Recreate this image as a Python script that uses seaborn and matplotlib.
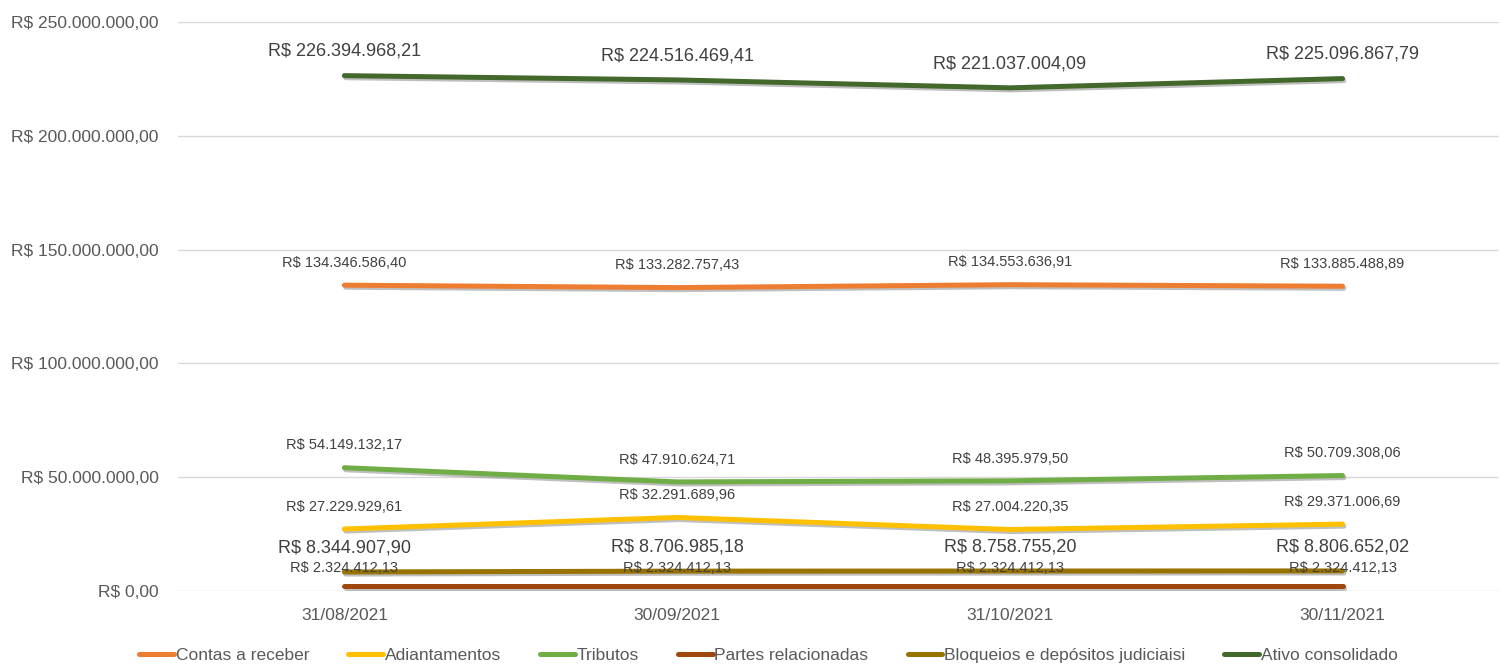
import seaborn as sns
import numpy as np
import pandas as pd
import matplotlib
matplotlib.use("Agg")
from matplotlib import pyplot as plt
from matplotlib import patheffects as pe

dates = ["31/08/2021", "30/09/2021", "31/10/2021", "30/11/2021"]
series_names = ["Contas a receber", "Adiantamentos", "Tributos", "Partes relacionadas",
                "Bloqueios e depósitos judiciaisi", "Ativo consolidado"]
contas_receber = [134346586.40, 133282757.43, 134553636.91, 133885488.89]
adiantamentos = [27229929.61, 32291689.96, 27004220.35, 29371006.69]
tributos = [54149132.17, 47910624.71, 48395979.50, 50709308.06]
partes_relacionadas = [2324412.13, 2324412.13, 2324412.13, 2324412.13]
bloqueios = [8344907.90, 8706985.18, 8758755.20, 8806652.02]
ativo_consolidado = [226394968.21, 224516469.41, 221037004.09, 225096867.79]
y_ticks = [0, 50000000, 100000000, 150000000, 200000000, 250000000]

colors = ["#ED7D31", "#FFC000", "#70AD47", "#9E480E", "#997300", "#43682B"]

values = [contas_receber, adiantamentos, tributos, partes_relacionadas, bloqueios, ativo_consolidado]
df = pd.DataFrame({
	"data": [d for _ in series_names for d in dates],
	"pos": [i for _ in series_names for i in range(len(dates))],
	"serie": [s for s in series_names for _ in dates],
	"valor": [v for vals in values for v in vals],
})

sns.set_theme(style="white")
plt.rcParams['font.family'] = ['Liberation Sans Narrow', 'Liberation Sans', 'DejaVu Sans']

def brl(v):
	s = f"{v:,.2f}"
	s = s.replace(",", "#").replace(".", ",").replace("#", ".")
	return "R$ " + s

fig = plt.figure(figsize=(15.01, 6.64), dpi=100)
ax = fig.add_axes([0.1186, 0.110, 0.880, 0.857])

shadow = [pe.SimpleLineShadow(offset=(1, -1.5), shadow_color="gray", alpha=0.5), pe.Normal()]
sns.lineplot(data=df, x="pos", y="valor", hue="serie", hue_order=series_names,
			 palette=colors, linewidth=3.6, ax=ax, legend=False)
for line in ax.get_lines():
	line.set_path_effects(shadow)
	line.set_solid_capstyle("round")

# data labels
big = {"Ativo consolidado", "Bloqueios e depósitos judiciaisi"}
for name, vals in zip(series_names, values):
	size = 13 if name in big else 10.5
	if name == "Partes relacionadas":
		off = 13
	elif name in big:
		off = 17.5
	else:
		off = 16
	for i, v in enumerate(vals):
		ax.annotate(brl(v), (i, v), xytext=(0, off), textcoords="offset points",
					ha="center", va="center", fontsize=size, color="#404040")

ax.set_xlim(-0.5, 3.47)
ax.set_ylim(0, 250000000)
ax.set_xticks(range(len(dates)))
ax.set_xticklabels(dates)
ax.set_yticks(y_ticks)
ax.set_yticklabels([brl(t) for t in y_ticks])
ax.tick_params(axis="both", labelsize=12.5, colors="#595959", length=0, pad=12)
ax.tick_params(axis="y", pad=14)
ax.grid(axis="y", color="#d9d9d9", linewidth=1)
ax.set_axisbelow(True)
for s in ax.spines.values():
	s.set_visible(False)
ax.set_xlabel("")
ax.set_ylabel("")

handles = [plt.Line2D([], [], color=c, linewidth=3.6) for c in colors]
fig.legend(handles, series_names, loc="center", bbox_to_anchor=(0.512, 0.013), ncol=6,
		   frameon=False, fontsize=12.5, handlelength=2.0, handletextpad=0.1,
		   columnspacing=2.25, labelcolor="#595959")

fig.savefig("out.png", dpi=100)
